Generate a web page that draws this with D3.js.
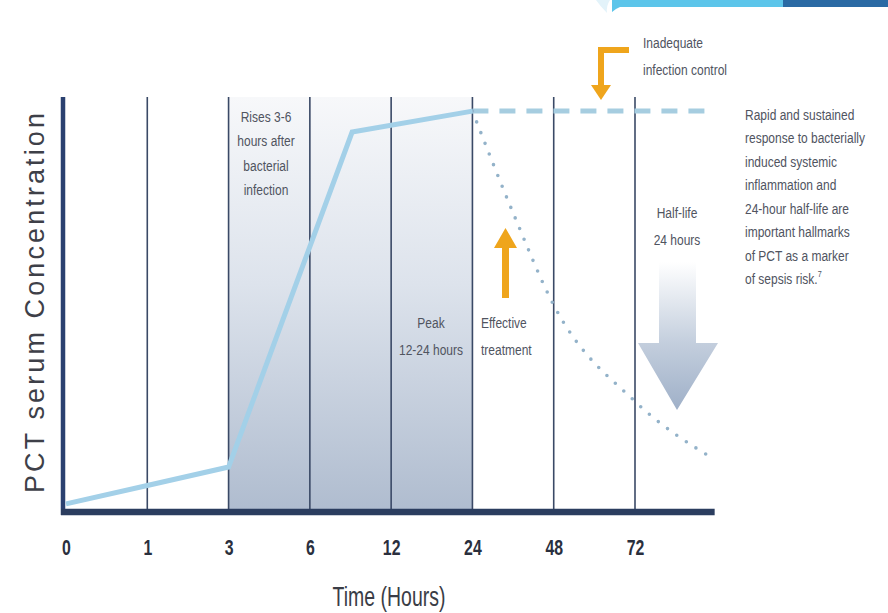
<!DOCTYPE html>
<html>
<head>
<meta charset="utf-8">
<script src="https://cdn.jsdelivr.net/npm/d3@7/dist/d3.min.js"></script>
<style>
  html, body { margin: 0; padding: 0; background: #ffffff; }
  svg { display: block; }
</style>
</head>
<body>
<svg id="chart" width="888" height="613"></svg>
<script>
// Time axis: categorical hours placed at equal spacing (slot index = position)
const timeLabels = ["0", "1", "3", "6", "12", "24", "48", "72"];
const slots = [0, 1, 2, 3, 4, 5, 6, 7];

// PCT concentration (relative units 0-100) — rise to peak
const riseSlots  = [0, 1, 2, 3.52, 5];
const riseValues = [1, 5.5, 10, 91.7, 96.8];

// Inadequate infection control: level stays high
const sustainedSlots  = [5, 7.98];
const sustainedValues = [96.8, 96.8];

// Effective treatment: decay with 24 h half-life
const decaySlots  = [5, 5.5, 6, 7, 7.98];
const decayValues = [96.8, 72, 49.5, 26, 11.8];

// Shaded window of the rise / peak phase (slot range)
const shadedRange = [2, 5];

const FONT = "'Liberation Sans', Arial, sans-serif";
const SQUEEZE = 0.8;   // horizontal compression for the condensed lettering

const svg = d3.select("#chart");
const defs = svg.append("defs");

const x = d3.scaleLinear().domain([0, 7]).range([66, 635]);
const y = d3.scaleLinear().domain([0, 100]).range([508, 98]);

const plotTop = 97, baseY = 512, xEnd = x(7.98);

// ---- gradients ----
const g1 = defs.append("linearGradient").attr("id", "shade").attr("x1", 0).attr("y1", 0).attr("x2", 0).attr("y2", 1);
g1.append("stop").attr("offset", "0%").attr("stop-color", "#f7f8fa");
g1.append("stop").attr("offset", "45%").attr("stop-color", "#dde3ec");
g1.append("stop").attr("offset", "100%").attr("stop-color", "#afbccf");

const g2 = defs.append("linearGradient").attr("id", "bigArrow").attr("x1", 0).attr("y1", 0).attr("x2", 0).attr("y2", 1);
g2.append("stop").attr("offset", "0%").attr("stop-color", "#ffffff");
g2.append("stop").attr("offset", "55%").attr("stop-color", "#c3cedd");
g2.append("stop").attr("offset", "100%").attr("stop-color", "#9fb0c8");

// ---- header decoration strip ----
const deco = svg.append("g");
deco.append("path").attr("d", "M596,0 L610,0 Q606,6 607,13 Q600,6 596,0 Z").attr("fill", "#e3f3fa");
deco.append("path").attr("d", "M612,0 L783,0 L783,7 L620,7 Q615,9 612,12 Z").attr("fill", "#5cc5ea");
deco.append("rect").attr("x", 783).attr("y", 0).attr("width", 105).attr("height", 7).attr("fill", "#2a6aa4");

// ---- shaded phase ----
svg.append("rect")
  .attr("x", x(shadedRange[0])).attr("y", plotTop)
  .attr("width", x(shadedRange[1]) - x(shadedRange[0]))
  .attr("height", baseY - plotTop)
  .attr("fill", "url(#shade)");

// ---- vertical gridlines ----
svg.append("g").selectAll("line").data(slots.slice(1)).join("line")
  .attr("x1", d => x(d)).attr("x2", d => x(d))
  .attr("y1", plotTop).attr("y2", baseY)
  .attr("stroke", "#3a4966").attr("stroke-width", 1.6);

// ---- axes lines ----
svg.append("line").attr("x1", 63).attr("x2", 63).attr("y1", plotTop).attr("y2", baseY + 3)
  .attr("stroke", "#2b4170").attr("stroke-width", 4.5);
svg.append("line").attr("x1", 61).attr("x2", xEnd).attr("y1", baseY).attr("y2", baseY)
  .attr("stroke", "#2b3d5f").attr("stroke-width", 6.5);

// ---- big half-life arrow ----
svg.append("path")
  .attr("d", "M659,262 L696,262 L696,343 L718,343 L677,410 L638,343 L659,343 Z")
  .attr("fill", "url(#bigArrow)");

// ---- series lines ----
const line = d3.line().x(d => x(d[0])).y(d => y(d[1]));

svg.append("path")
  .datum(d3.zip(sustainedSlots, sustainedValues))
  .attr("d", line)
  .attr("fill", "none").attr("stroke", "#a6cde0").attr("stroke-width", 5)
  .attr("stroke-dasharray", "16 11");

svg.append("path")
  .datum(d3.zip(decaySlots, decayValues))
  .attr("d", d3.line().x(d => x(d[0])).y(d => y(d[1])).curve(d3.curveMonotoneX))
  .attr("fill", "none").attr("stroke", "#93b2c9").attr("stroke-width", 3.6)
  .attr("stroke-linecap", "round").attr("stroke-dasharray", "0 11.5");

svg.append("path")
  .datum(d3.zip(riseSlots, riseValues))
  .attr("d", line)
  .attr("fill", "none").attr("stroke", "#a3d0e8").attr("stroke-width", 5)
  .attr("stroke-linejoin", "miter");

// ---- x axis tick labels ----
const xAxis = d3.axisBottom(x).tickValues(slots).tickFormat(i => timeLabels[i]).tickSize(0).tickPadding(0);
const ax = svg.append("g").attr("transform", `translate(0,${baseY})`).call(xAxis);
ax.select(".domain").remove();
ax.selectAll("text")
  .attr("y", 43).attr("dy", null)
  .attr("transform", "scale(0.72,1)")
  .attr("font-family", FONT)
  .attr("font-size", 22).attr("font-weight", "bold").attr("fill", "#2a2f3d");

// ---- axis titles ----
svg.append("text")
  .attr("transform", `translate(389,606) scale(${SQUEEZE},1)`)
  .attr("text-anchor", "middle")
  .attr("font-family", FONT)
  .attr("font-size", 27).attr("fill", "#3a3d46")
  .attr("textLength", 141).attr("lengthAdjust", "spacingAndGlyphs")
  .text("Time (Hours)");

svg.append("text")
  .attr("transform", "translate(44,303) rotate(-90)")
  .attr("text-anchor", "middle")
  .attr("font-family", FONT)
  .attr("font-size", 27).attr("fill", "#3e4048")
  .attr("textLength", 380).attr("lengthAdjust", "spacing")
  .text("PCT serum Concentration");

// ---- annotations (condensed by horizontal squeeze) ----
function block(lines, x0, y0, lh, anchor) {
  const g = svg.append("g").attr("transform", `translate(${x0},0) scale(${SQUEEZE},1)`);
  const t = g.append("text")
    .attr("font-family", FONT)
    .attr("font-size", 15).attr("fill", "#50545f").attr("text-anchor", anchor);
  lines.forEach((s, i) => t.append("tspan").attr("x", 0).attr("y", y0 + i * lh).text(s));
  return t;
}
block(["Rises 3-6", "hours after", "bacterial", "infection"], 266, 122, 24.5, "middle");
block(["Peak", "12-24 hours"], 431, 328, 27, "middle");
block(["Effective", "treatment"], 481, 328, 27, "start");
block(["Half-life", "24 hours"], 677, 218, 27, "middle");
block(["Inadequate", "infection control"], 643, 48, 27, "start");

const side = block(["Rapid and sustained", "response to bacterially", "induced systemic",
  "inflammation and", "24-hour half-life are", "important hallmarks",
  "of PCT as a marker", "of sepsis risk."], 745, 120, 23.5, "start");
side.append("tspan").attr("font-size", 9).attr("dy", -7).text("7");

// ---- orange arrows ----
const orange = "#efa51c";
svg.append("path").attr("d", "M502,298 L509,298 L509,248 L517,248 L505.5,228 L494,248 L502,248 Z").attr("fill", orange);
svg.append("path").attr("d", "M629,50 L601,50 L601,86").attr("fill", "none").attr("stroke", orange).attr("stroke-width", 6);
svg.append("path").attr("d", "M591,85 L611,85 L601,100 Z").attr("fill", orange);
</script>
</body>
</html>
